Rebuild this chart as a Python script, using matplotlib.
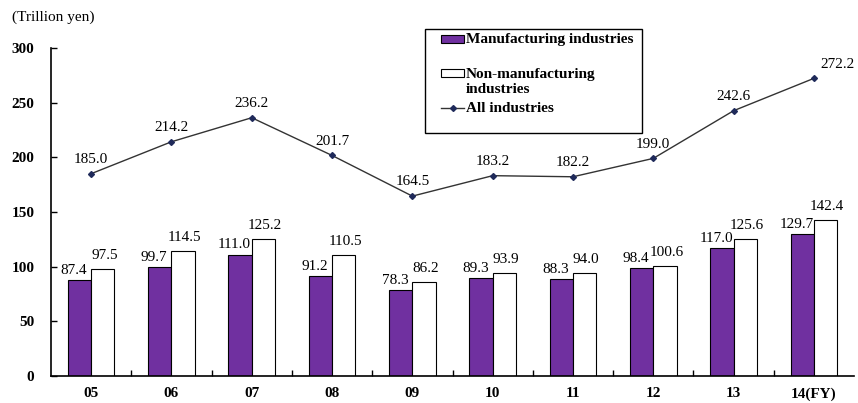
import matplotlib
matplotlib.use("Agg")
import matplotlib.pyplot as plt
import numpy as np
from matplotlib.lines import Line2D
from matplotlib.patches import Rectangle

plt.rcParams['font.family'] = ['Liberation Serif', 'DejaVu Serif']

years = ["05", "06", "07", "08", "09", "10", "11", "12", "13", "14(FY)"]
manufacturing = [87.4, 99.7, 111.0, 91.2, 78.3, 89.3, 88.3, 98.4, 117.0, 129.7]
non_manufacturing = [97.5, 114.5, 125.2, 110.5, 86.2, 93.9, 94.0, 100.6, 125.6, 142.4]
all_industries = [185.0, 214.2, 236.2, 201.7, 164.5, 183.2, 182.2, 199.0, 242.6, 272.2]
series_names = ["Manufacturing industries", "Non-manufacturing\nindustries", "All industries"]

purple = "#7030A0"
line_col = "#333333"
marker_col = "#1f2a5a"

W, H = 858, 403
fig = plt.figure(figsize=(W / 100, H / 100), dpi=100)
ax = fig.add_axes([0.0594, 0.067, 0.936, 0.814])


def px(xp, yp):
    """Figure fraction from pixel position measured from the top-left corner."""
    return xp / W, 1 - yp / H


x = np.arange(len(years))
w = 0.29
ax.bar(x - w / 2, manufacturing, w, color=purple, edgecolor="black", linewidth=0.8, zorder=2)
ax.bar(x + w / 2, non_manufacturing, w, color="white", edgecolor="black", linewidth=0.8, zorder=2)
ax.plot(x, all_industries, color=line_col, linewidth=1.0, marker="D", markersize=3,
        markerfacecolor=marker_col, markeredgecolor=marker_col, zorder=3)

for xi, v in zip(x, manufacturing):
    ax.text(xi - w / 2 - 0.07, v + 3, f"{v:.1f}", ha="center", va="bottom", fontsize=11)
for xi, v in zip(x, non_manufacturing):
    ax.text(xi + w / 2 + 0.02, v + 6.5, f"{v:.1f}", ha="center", va="bottom", fontsize=11)
for xi, v in zip(x, all_industries):
    dx = 0.3 if xi == len(x) - 1 else 0
    ax.text(xi + dx, v + 7, f"{v:.1f}", ha="center", va="bottom", fontsize=11)

ax.set_xlim(-0.5, len(years) - 0.5)
ax.set_ylim(0, 300)
ax.set_yticks(range(0, 301, 50))
ax.set_xticks(x)
ax.set_xticklabels(years, fontweight="bold", fontsize=11)
for lab in ax.get_yticklabels():
    lab.set_fontweight("bold")
    lab.set_fontsize(11)
ax.set_xticks(np.arange(0.5, len(years) - 0.5, 1), minor=True)
ax.tick_params(axis="x", which="major", length=0, pad=8)
ax.tick_params(axis="x", which="minor", direction="in", length=4, width=1)
ax.tick_params(axis="y", direction="in", length=4, width=1, pad=12)
for s in ("top", "right"):
    ax.spines[s].set_visible(False)
for s in ("left", "bottom"):
    ax.spines[s].set_linewidth(1.2)

fig.text(*px(12, 17), "(Trillion yen)", fontsize=11, ha="left", va="center")

# legend box drawn in figure pixels
x0, y0 = px(425, 133)
x1, y1 = px(642, 29)
fig.add_artist(Rectangle((x0, y0), x1 - x0, y1 - y0, transform=fig.transFigure,
                         facecolor="white", edgecolor="black", linewidth=1.0, zorder=5))
hx0, hx1 = 441, 464
hw = (hx1 - hx0) / W
hh = 8 / H
for yc, fc in ((39, purple), (73, "white")):
    fx, fy = px(hx0, yc + 4)
    fig.add_artist(Rectangle((fx, fy), hw, hh, transform=fig.transFigure,
                             facecolor=fc, edgecolor="black", linewidth=0.8, zorder=6))
lx0, ly = px(hx0, 108)
lx1, _ = px(hx1, 108)
fig.add_artist(Line2D([lx0, lx1], [ly, ly], transform=fig.transFigure, color=line_col,
                      linewidth=1.0, zorder=6))
fig.add_artist(Line2D([(lx0 + lx1) / 2], [ly], transform=fig.transFigure, marker="D",
                      markersize=3, markerfacecolor=marker_col, markeredgecolor=marker_col,
                      linestyle="none", zorder=7))
for yc, name in zip((39, 82, 108), series_names):
    fig.text(*px(466, yc), name, fontsize=11, fontweight="bold", ha="left", va="center",
             linespacing=1.15, zorder=7)

fig.savefig("out.png", dpi=100)
